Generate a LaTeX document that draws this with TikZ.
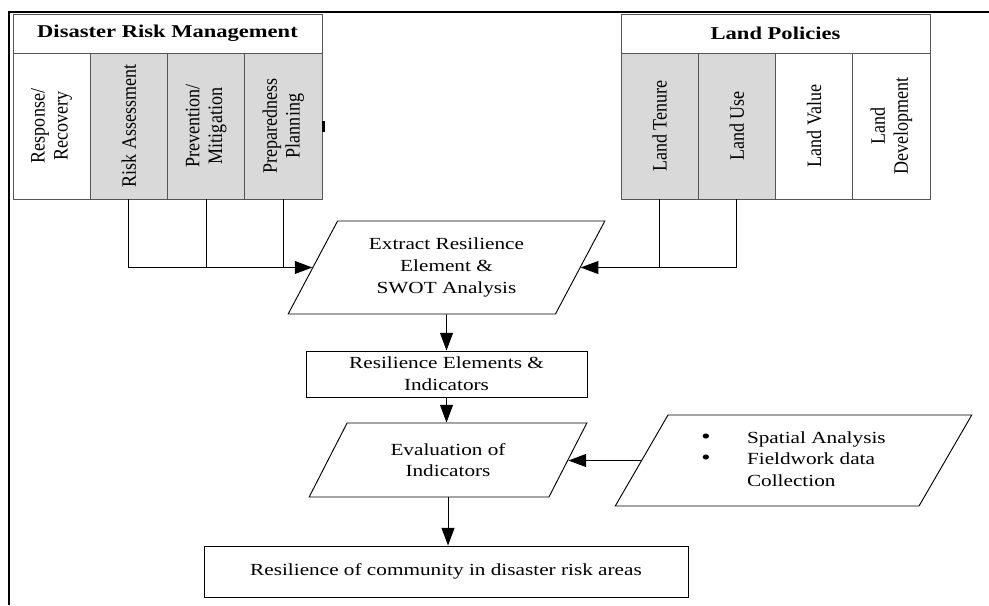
\documentclass[tikz,border=0pt]{standalone}
\usepackage{fontspec}
\setmainfont{Liberation Serif}[FakeStretch=1.25]
\newfontfamily\sidefont{Liberation Serif}[FakeStretch=0.88]
\usetikzlibrary{arrows.meta,shapes.geometric}
\definecolor{cellgrey}{RGB}{217,217,217}
\definecolor{edge}{RGB}{85,85,85}
\newcommand{\dotmark}{{\fontsize{18}{18}\selectfont\textbullet}}
\tikzset{
  head/.style={draw=edge,line width=0.7pt,minimum width=9.27cm,minimum height=1.17cm,font=\bfseries\fontsize{15.4}{18}\selectfont},
  col/.style={draw=edge,line width=0.7pt,rotate=90,minimum width=4.38cm,minimum height=2.3175cm,align=center,font=\sidefont\fontsize{17.5}{19.5}\selectfont},
  tinted/.style={fill=cellgrey},
  flowbox/.style={draw,line width=0.8pt,align=center,font=\fontsize{14.5}{18.5}\selectfont},
  slant/.style={flowbox,trapezium,trapezium stretches=true,trapezium left angle=61,trapezium right angle=119},
  arr/.style={line width=0.8pt,-{Triangle[length=15pt,width=11pt]}},
}
\begin{document}
\begin{tikzpicture}[x=0.03cm,y=-0.03cm]
\useasboundingbox (0,0) rectangle (989,605);
\draw[line width=1.7pt] (989,12) -- (9,12) -- (9,605);
% disaster risk management
\node[head] (drm) at (167.5,33.5) {Disaster Risk Management};
\node[col] (rr) at (51.6,126) {Response/\\Recovery};
\node[col,tinted] (ra) at (128.9,126) {Risk Assessment};
\node[col,tinted] (pm) at (206.1,126) {Prevention/\\Mitigation};
\node[col,tinted] (pp) at (283.4,126) {Preparedness\\Planning};
\fill (322,121) rectangle (325,132);
% land policies
\node[head] (lp) at (775.5,33.5) {Land Policies};
\node[col,tinted] (lt) at (659.6,126) {Land Tenure};
\node[col,tinted] (lu) at (736.9,126) {Land Use};
\node[col] (lv) at (814.1,126) {Land Value};
\node[col] (ld) at (891.4,126) {Land\\Development};
% flow
\node[slant,minimum width=9.51cm,minimum height=2.79cm] (ext) at (446.5,267.5) {Extract Resilience\\Element \&\\SWOT Analysis};
\node[flowbox,minimum width=8.43cm,minimum height=1.38cm] (rei) at (446.5,374) {Resilience Elements \&\\Indicators};
\node[slant,minimum width=8.34cm,minimum height=2.22cm] (eva) at (448,460) {Evaluation of\\Indicators};
\node[slant,minimum width=10.71cm,minimum height=2.73cm] (sfc) at (793.5,460.5)
  {\begin{tabular}{@{}p{39pt}@{}l@{}}
   \dotmark & Spatial Analysis\\
   \dotmark & Fieldwork data\\
   & Collection
   \end{tabular}};
\node[flowbox,minimum width=14.52cm,minimum height=1.53cm] (res) at (446,571.5) {Resilience of community in disaster risk areas};
% connectors
\draw[arr] (ra.west) |- (ext.west);
\draw[line width=0.8pt] (pm.west) -- (pm.west |- ext.west);
\draw[line width=0.8pt] (pp.west) -- (pp.west |- ext.west);
\draw[arr] (lu.west) |- (ext.east);
\draw[line width=0.8pt] (lt.west) -- (lt.west |- ext.east);
\draw[arr] (ext.south) -- (rei.north);
\draw[arr] (rei.south) -- (rei.south |- eva.north);
\draw[arr] (eva.south) -- (eva.south |- res.north);
\draw[arr] (sfc.west) -- (sfc.west -| eva.east);
\end{tikzpicture}
\end{document}
